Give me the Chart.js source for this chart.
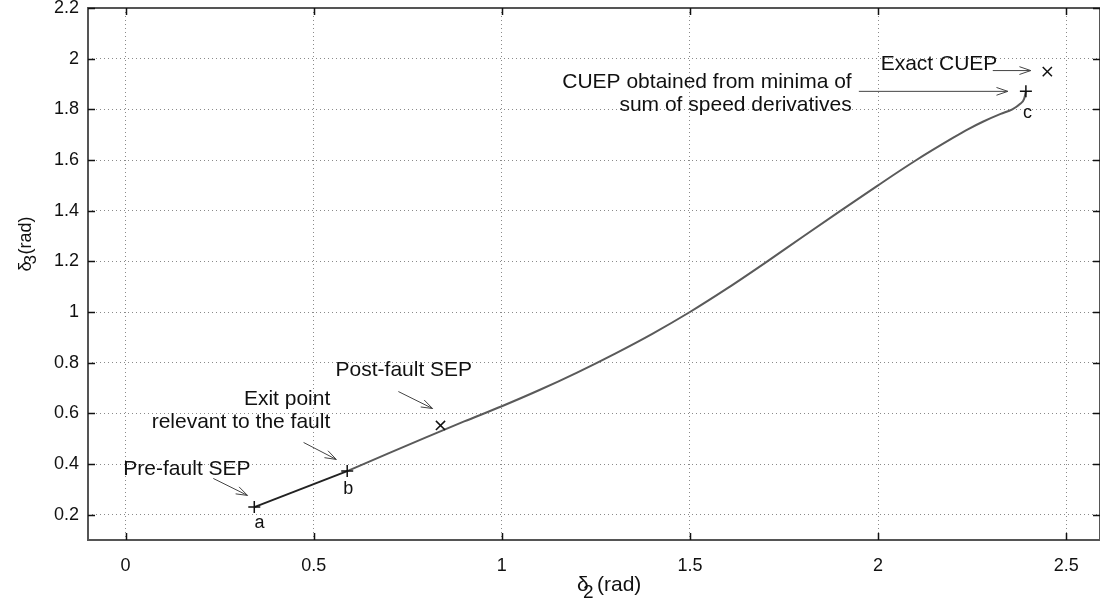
<!DOCTYPE html>
<html><head><meta charset="utf-8">
<script src="https://cdn.jsdelivr.net/npm/chart.js@4.4.0/dist/chart.umd.min.js"></script>
<style>
html,body{margin:0;padding:0;background:#fff;overflow:hidden;}
#c{position:absolute;left:0;top:0;width:1108px;height:602px;}
</style></head><body>
<canvas id="c" width="1108" height="602"></canvas>
<script>
// ---- data ----
const xTicks = [0, 0.5, 1, 1.5, 2, 2.5];
const yTicks = [0.2, 0.4, 0.6, 0.8, 1, 1.2, 1.4, 1.6, 1.8, 2, 2.2];
// segment from pre-fault SEP (a) to exit point (b)
const segX = [0.342, 0.589];
const segY = [0.230, 0.372];
// trajectory from exit point (b) to CUEP (c)
const curveX = [0.589, 0.70, 0.80, 0.90, 1.0, 1.1, 1.2, 1.3, 1.4, 1.5, 1.6, 1.7, 1.8, 1.9, 2.0, 2.1, 2.2, 2.24, 2.28, 2.326, 2.357, 2.378, 2.388, 2.393];
const curveY = [0.372, 0.443, 0.506, 0.568, 0.628, 0.692, 0.761, 0.835, 0.914, 1.000, 1.094, 1.194, 1.297, 1.399, 1.500, 1.598, 1.688, 1.722, 1.752, 1.782, 1.800, 1.822, 1.840, 1.871];
// '+' markers: a, b, c
const plusX = [0.342, 0.589, 2.393];
const plusY = [0.230, 0.372, 1.871];
// 'x' markers: post-fault SEP, exact CUEP
const crossX = [0.837, 2.45];
const crossY = [0.552, 1.949];
const pointLabels = ['a', 'b', 'c'];

// annotation text (anchor in data units)
const notes = [
  {lines:['Pre-fault SEP'], x:-0.006, y:0.387, align:'left', arrow:[0.233,0.343,0.324,0.276]},
  {lines:['Exit point','relevant to the fault'], x:0.544, y:0.663, align:'right', arrow:[0.473,0.485,0.560,0.418]},
  {lines:['Post-fault SEP'], x:0.558, y:0.777, align:'left', arrow:[0.725,0.686,0.816,0.619]},
  {lines:['Exact CUEP'], x:2.007, y:1.984, align:'left', arrow:[2.305,1.953,2.406,1.953]},
  {lines:['CUEP obtained from minima of','sum of speed derivatives'], x:1.930, y:1.915, align:'right', arrow:[1.949,1.871,2.345,1.871]}
];
const labelOffsets = [[0.356,0.167],[0.592,0.300],[2.397,1.784]];

const FONT = "'Liberation Sans', Arial, Helvetica, sans-serif";
const toPts = (xs, ys) => xs.map((v, i) => ({x: v, y: ys[i]}));

const deco = {
  id: 'deco',
  afterDraw(chart) {
    const ctx = chart.ctx, a = chart.chartArea;
    const xs = chart.scales.x, ys = chart.scales.y;
    ctx.save();
    // box
    ctx.strokeStyle = '#555'; ctx.lineWidth = 2;
    ctx.strokeRect(a.left, a.top, a.right - a.left, a.bottom - a.top);
    // inward ticks
    ctx.strokeStyle = '#111'; ctx.lineWidth = 1.5;
    ctx.beginPath();
    xTicks.forEach(v => {
      const px = Math.round(xs.getPixelForValue(v)) + 0.5;
      ctx.moveTo(px, a.bottom); ctx.lineTo(px, a.bottom - 7);
      ctx.moveTo(px, a.top); ctx.lineTo(px, a.top + 7);
    });
    yTicks.forEach(v => {
      const py = Math.round(ys.getPixelForValue(v)) + 0.5;
      ctx.moveTo(a.left, py); ctx.lineTo(a.left + 7, py);
      ctx.moveTo(a.right, py); ctx.lineTo(a.right - 7, py);
    });
    ctx.stroke();

    // annotations
    const fs = 21;
    ctx.fillStyle = '#111';
    ctx.font = fs + 'px ' + FONT;
    ctx.textBaseline = 'alphabetic';
    notes.forEach(n => {
      ctx.textAlign = n.align;
      const px = xs.getPixelForValue(n.x);
      const py = ys.getPixelForValue(n.y) + 0.358 * fs;
      n.lines.forEach((t, i) => ctx.fillText(t, px, py + i * 23));
      const [x1, y1, x2, y2] = n.arrow;
      const ax1 = xs.getPixelForValue(x1), ay1 = ys.getPixelForValue(y1);
      const ax2 = xs.getPixelForValue(x2), ay2 = ys.getPixelForValue(y2);
      const ang = Math.atan2(ay2 - ay1, ax2 - ax1);
      const L = 12, h = 0.33;
      ctx.strokeStyle = '#444'; ctx.lineWidth = 1;
      ctx.beginPath();
      ctx.moveTo(ax1, ay1); ctx.lineTo(ax2, ay2);
      ctx.moveTo(ax2 - L * Math.cos(ang - h), ay2 - L * Math.sin(ang - h));
      ctx.lineTo(ax2, ay2);
      ctx.lineTo(ax2 - L * Math.cos(ang + h), ay2 - L * Math.sin(ang + h));
      ctx.stroke();
    });

    // point labels a, b, c
    ctx.font = '18px ' + FONT;
    ctx.textAlign = 'center';
    pointLabels.forEach((t, i) => {
      ctx.fillText(t, xs.getPixelForValue(labelOffsets[i][0]), ys.getPixelForValue(labelOffsets[i][1]) + 4.7);
    });

    // x-axis title: delta_2 (rad)
    ctx.textAlign = 'left';
    ctx.font = '21px ' + FONT;
    ctx.fillText('\u03b4', 577, 591);
    ctx.font = '19px ' + FONT;
    ctx.fillText('2', 583, 598);
    ctx.font = '21px ' + FONT;
    ctx.fillText('(rad)', 597, 591);

    // y-axis title: delta_3(rad)
    ctx.translate(31, 244);
    ctx.rotate(-Math.PI / 2);
    ctx.font = '18px ' + FONT;
    const wd = ctx.measureText('\u03b4').width;
    const w3 = ctx.measureText('3').width;
    const wr = ctx.measureText('(rad)').width;
    const tot = wd - 3 + w3 + wr;
    let sx = -tot / 2;
    ctx.fillText('\u03b4', sx, 0);
    ctx.font = '17px ' + FONT;
    ctx.fillText('3', sx + wd - 3, 5);
    ctx.font = '18px ' + FONT;
    ctx.fillText('(rad)', sx + wd - 3 + w3, 0);
    ctx.restore();
  }
};

new Chart(document.getElementById('c'), {
  type: 'scatter',
  data: {
    datasets: [
      {data: toPts(segX, segY), showLine: true, borderColor: '#222', borderWidth: 2, pointRadius: 0, order: 3},
      {data: toPts(curveX, curveY), showLine: true, borderColor: '#5a5a5a', borderWidth: 2, pointRadius: 0, cubicInterpolationMode: 'monotone', order: 2},
      {data: toPts(plusX, plusY), showLine: false, pointStyle: 'cross', pointRadius: 6, borderColor: '#111', borderWidth: 1.5, backgroundColor: '#111', order: 1},
      {data: toPts(crossX, crossY), showLine: false, pointStyle: 'crossRot', pointRadius: 6.5, borderColor: '#111', borderWidth: 1.5, backgroundColor: '#111', order: 1}
    ]
  },
  options: {
    responsive: false, maintainAspectRatio: false, animation: false, devicePixelRatio: 1,
    layout: {padding: {top: 7, right: 1, left: 0, bottom: 0}},
    plugins: {legend: {display: false}, tooltip: {enabled: false}},
    scales: {
      x: {
        type: 'linear', min: -0.1, max: 2.59,
        afterBuildTicks: s => { s.ticks = xTicks.map(v => ({value: v})); },
        afterFit: s => { s.height = 62; s.paddingLeft = 0; s.paddingRight = 0; },
        grid: {color: '#8a8a8a', lineWidth: 1, drawTicks: false},
        border: {display: false, dash: [1, 3]},
        ticks: {padding: 15, color: '#111', font: {family: FONT, size: 18}, maxRotation: 0, autoSkip: false, callback: v => String(v)}
      },
      y: {
        type: 'linear', min: 0.1, max: 2.2,
        afterBuildTicks: s => { s.ticks = yTicks.map(v => ({value: v})); },
        afterFit: s => { s.width = 88; s.paddingTop = 0; s.paddingBottom = 0; },
        grid: {color: '#8a8a8a', lineWidth: 1, drawTicks: false},
        border: {display: false, dash: [1, 3]},
        ticks: {padding: 9, color: '#111', font: {family: FONT, size: 18}, autoSkip: false, callback: v => String(v)}
      }
    }
  },
  plugins: [deco]
});
</script>
</body></html>
